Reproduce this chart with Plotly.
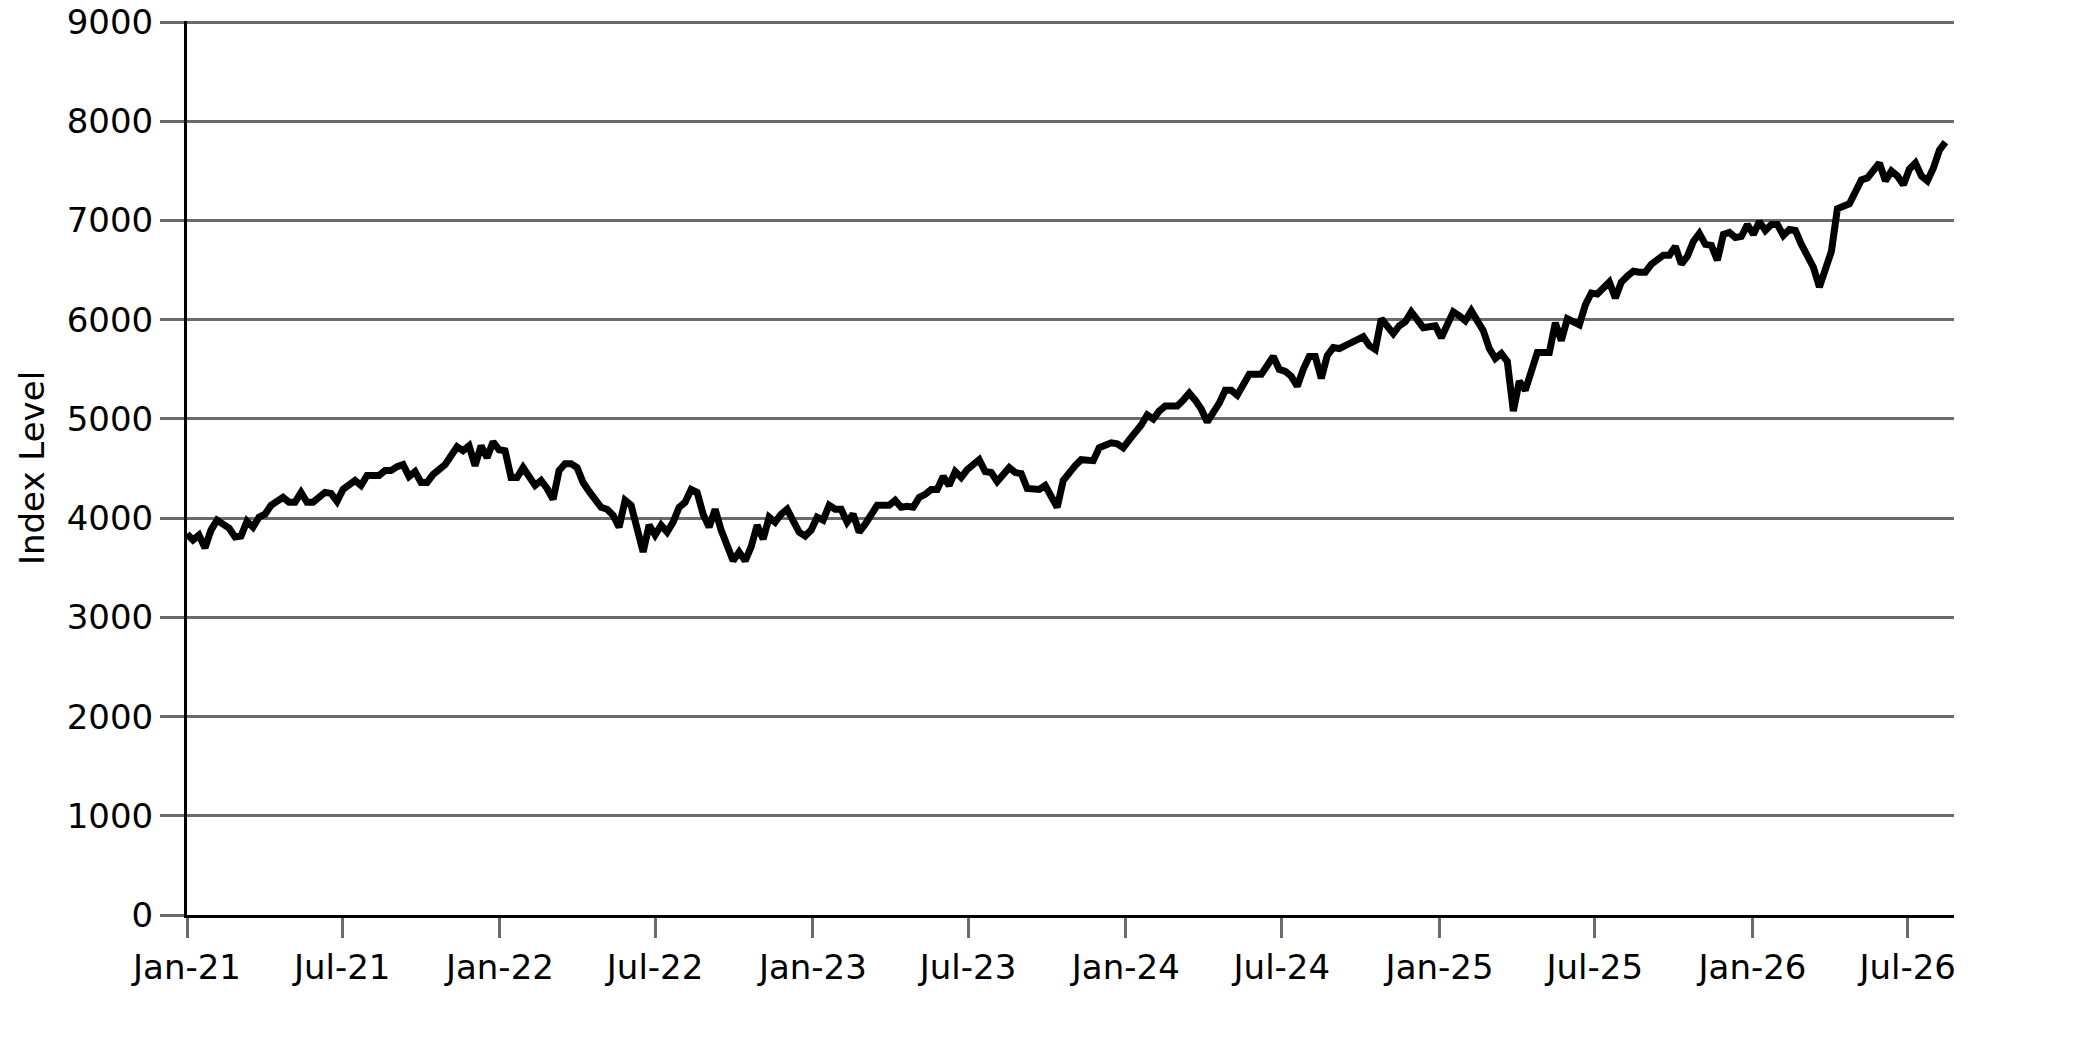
import plotly.graph_objects as go
import pandas as pd

# weekly index levels, split into chunks
first_week = '2021-01-01'

level_2021 = [3840, 3780, 3830, 3700, 3880, 3980, 3940, 3900, 3810, 3820,
              3970, 3910, 4010, 4040, 4130, 4170, 4210, 4160, 4160, 4260,
              4160, 4160, 4210, 4260, 4250, 4170, 4290, 4330, 4380, 4330,
              4430, 4430, 4430, 4480, 4480, 4520, 4540, 4420, 4470, 4360,
              4360, 4440, 4490, 4540, 4630, 4720, 4680, 4730, 4530, 4730,
              4610, 4770, 4690, 4680]

level_2022 = [4410, 4410, 4510, 4430, 4330, 4380, 4300, 4190, 4480, 4550,
              4550, 4510, 4360, 4270, 4180, 4110, 4090, 4030, 3910, 4180,
              4130, 3880, 3660, 3930, 3830, 3930, 3860, 3960, 4110, 4160,
              4290, 4260, 4040, 3910, 4090, 3880, 3730, 3570, 3660, 3570,
              3710, 3930, 3790, 4010, 3960, 4040, 4090, 3990, 3860, 3820,
              3880, 4010, 3980]

level_2023 = [4130, 4090, 4090, 3960, 4040, 3860, 3940, 4040, 4130, 4130,
              4130, 4180, 4110, 4120, 4110, 4210, 4240, 4290, 4290, 4420,
              4330, 4470, 4410, 4490, 4540, 4590, 4470, 4460, 4370, 4450,
              4510, 4460, 4450, 4300, 4290, 4290, 4330, 4230, 4110, 4380,
              4460, 4530, 4590, 4590, 4580, 4710, 4730, 4760, 4750, 4710,
              4790, 4860]

level_2024 = [4940, 5040, 5000, 5080, 5130, 5130, 5130, 5190, 5260, 5190,
              5100, 4970, 5060, 5160, 5290, 5290, 5240, 5340, 5450, 5450,
              5450, 5540, 5630, 5500, 5480, 5430, 5330, 5500, 5630, 5630,
              5410, 5640, 5720, 5710, 5740, 5770, 5800, 5830, 5740, 5700,
              6010, 5930, 5860, 5940, 5980, 6080, 6010, 5920, 5930, 5940,
              5820, 5960, 6080]

level_2025 = [6040, 5990, 6090, 5990, 5890, 5710, 5610, 5660, 5580, 5080,
              5380, 5290, 5480, 5670, 5670, 5670, 5970, 5790, 6010, 5970,
              5950, 6150, 6270, 6260, 6310, 6380, 6220, 6380, 6440, 6490,
              6480, 6480, 6560, 6600, 6650, 6650, 6740, 6560, 6640, 6790,
              6870, 6760, 6750, 6600, 6860, 6880, 6830, 6840, 6960, 6860]

level_2026 = [6990, 6900, 6960, 6960, 6850, 6910, 6900, 6760, 6640, 6530,
              6330, 6510, 6690, 7120, 7140, 7170, 7290, 7410, 7430, 7500,
              7580, 7400, 7500, 7450, 7360, 7520, 7580, 7450, 7400, 7530,
              7710, 7790]

y_ticks = [0, 1000, 2000, 3000, 4000, 5000, 6000, 7000, 8000, 9000]

levels = level_2021 + level_2022 + level_2023 + level_2024 + level_2025 + level_2026
weeks = pd.date_range(first_week, periods=len(levels), freq='7D')

grid_grey = '#6b6b6b'
font_name = 'DejaVu Sans'

fig = go.Figure()
fig.add_trace(go.Scatter(x=weeks, y=levels, mode='lines',
                         line=dict(color='black', width=7),
                         showlegend=False))

# page body has an 8px margin, so the figure is 16px smaller than the window
fig.update_layout(
    width=2067, height=1026,
    margin=dict(l=179, r=121, t=13, b=119),
    paper_bgcolor='white', plot_bgcolor='white',
    font=dict(family=font_name, size=34, color='black'),
)

fig.update_xaxes(
    range=['2021-01-01', '2026-08-24'],
    tick0='2021-01-01', dtick='M6', tickformat='%b-%y',
    showgrid=False, zeroline=False, automargin=False,
    showline=True, linecolor='black', linewidth=3,
    ticks='outside', ticklen=20, tickwidth=3, tickcolor=grid_grey,
    ticklabelstandoff=0, ticklabeloverflow='allow',
    tickfont=dict(size=34),
)

# top slightly above 9000 so the 9000 gridline is still drawn
fig.update_yaxes(
    range=[0, 9012], tickvals=y_ticks,
    showgrid=True, gridcolor=grid_grey, gridwidth=3,
    zeroline=False, automargin=False,
    showline=True, linecolor='black', linewidth=3,
    ticks='outside', ticklen=24, tickwidth=3, tickcolor=grid_grey,
    ticklabeloverflow='allow',
    tickfont=dict(size=34),
    title=dict(text='Index Level', font=dict(size=34), standoff=12),
)

fig.write_html("out.html")
